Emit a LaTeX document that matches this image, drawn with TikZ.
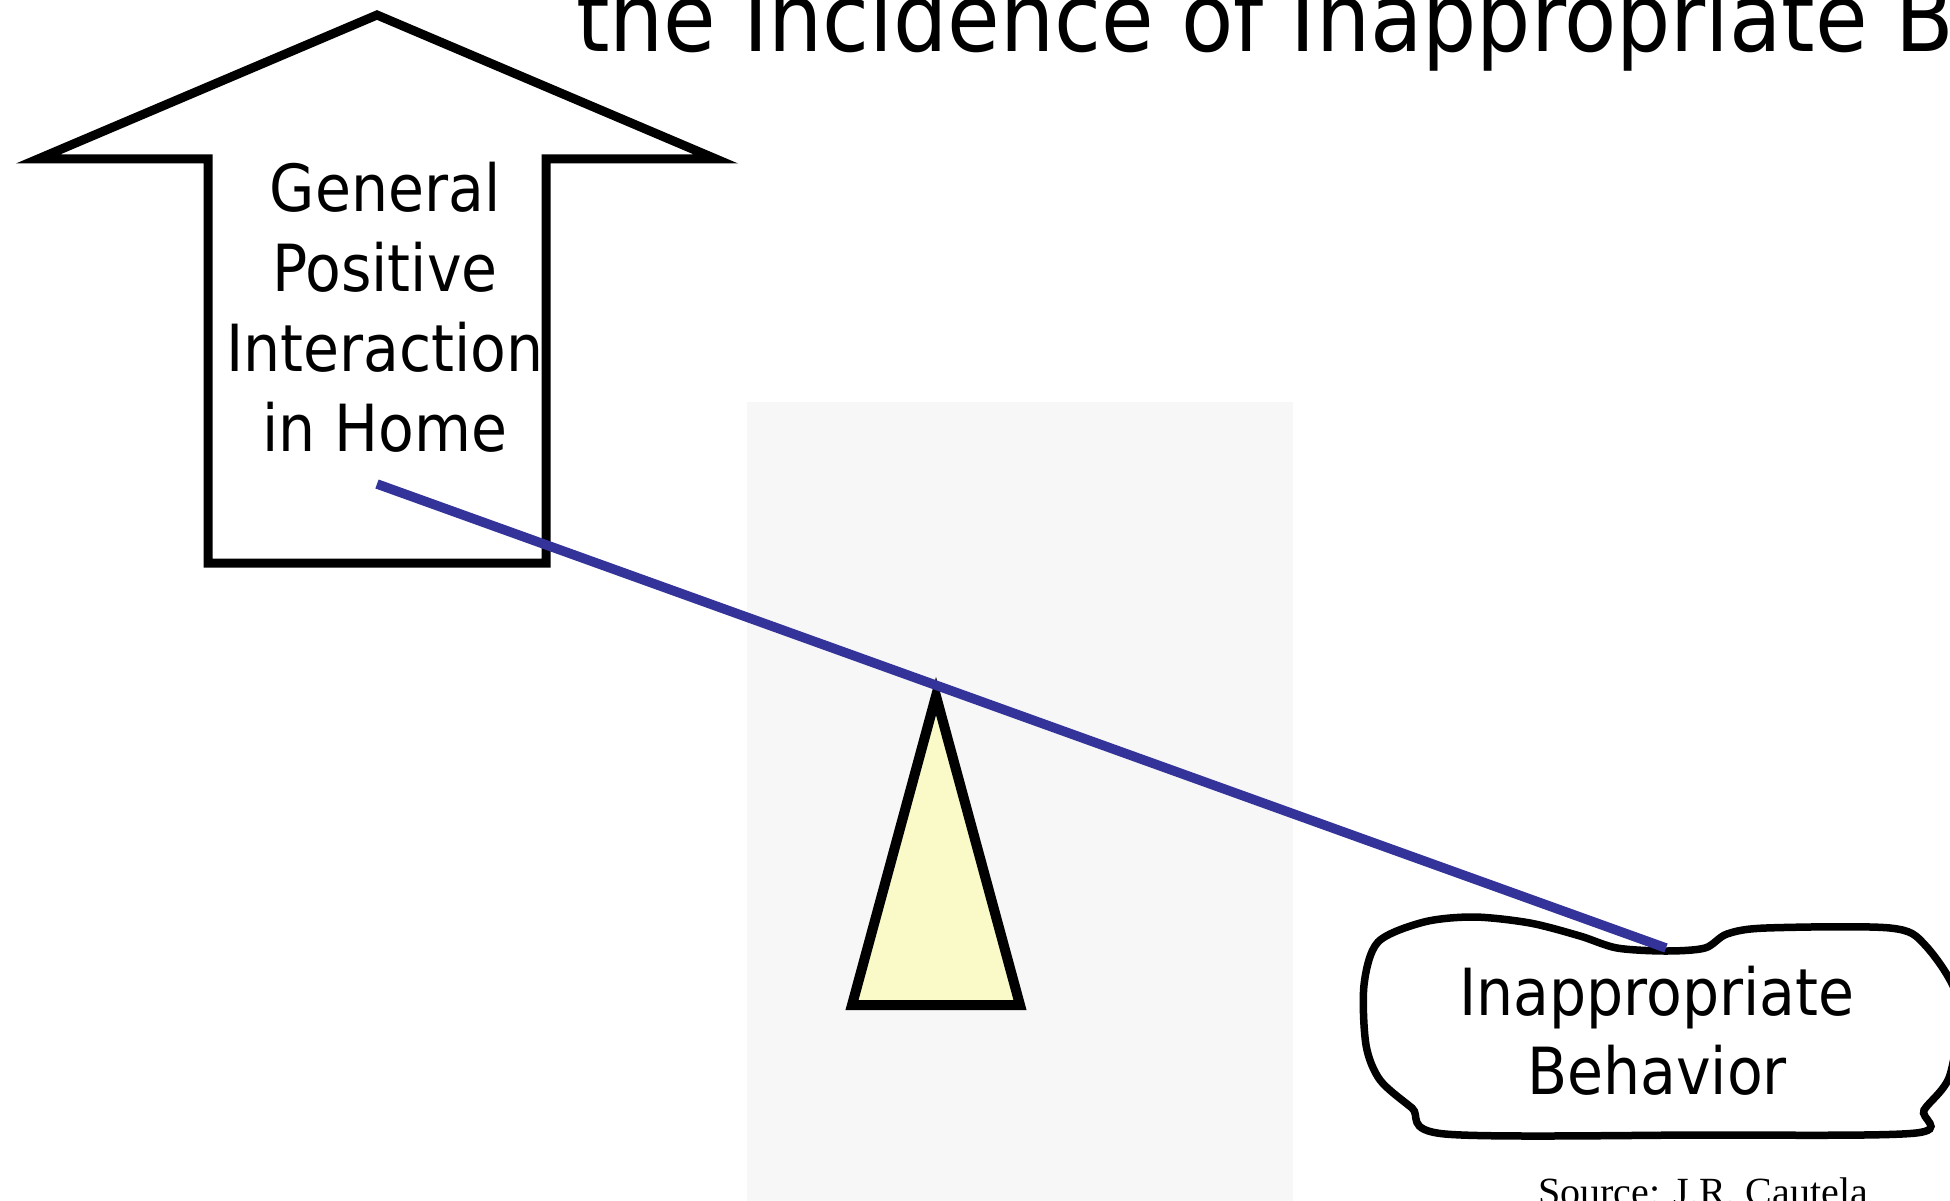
\documentclass[tikz,border=0pt]{standalone}
\usepackage{fontspec}
\setmainfont{DejaVu Sans Condensed}
\newfontfamily\srcfont{Liberation Serif}
\definecolor{beamblue}{RGB}{51,51,153}
\definecolor{pivotfill}{RGB}{250,250,200}
\definecolor{panelgray}{RGB}{247,247,247}
\tikzset{
  outline/.style={draw=black, line width=9pt, line join=miter},
  beamline/.style={draw=beamblue, line width=9.5pt},
  labeltext/.style={inner sep=0pt, align=center, font=\fontsize{65}{80}\selectfont},
}
\begin{document}
\begin{tikzpicture}[x=1pt,y=-1pt]
\useasboundingbox (0,0) rectangle (1950,1201);
\fill[panelgray] (747,402) rectangle (1293,1201);
% title
\node[anchor=base west, inner sep=0pt, font=\fontsize{95}{110}\selectfont] (title) at (576,52) {the Incidence of Inappropriate B};
% up arrow
\draw[outline, fill=white] (377,15) -- (716,159) -- (546,159) -- (546,563) -- (208,563) -- (208,159) -- (38,159) -- cycle;
\node[labeltext] (gpi) at (385,307) {General\\Positive\\Interaction\\in Home};
% blob
\draw[line width=7.5pt, fill=white] plot[smooth cycle, tension=0.5] coordinates {
 (1445,1134) (1412,1108) (1380,1080) (1366,1045) (1364,985) (1378,942) (1424,922) (1474,917)
 (1530,923) (1580,936) (1617,948) (1666,951) (1705,948) (1727,934) (1766,928)
 (1890,928) (1925,945) (1958,1000) (1950,1075) (1924,1110) (1916,1133) (1700,1135)};
\node[labeltext, font=\fontsize{65}{79}\selectfont] (ib) at (1657,1031) {Inappropriate\\Behavior};
% pivot
\draw[draw=black, line width=10pt, line join=miter, fill=pivotfill] (936,696) -- (1020,1005) -- (852,1005) -- cycle;
\coordinate (beamL) at (377,484);
\coordinate (beamR) at (1666,948);
\draw[beamline] (beamL) -- (beamR);
\node[anchor=base west, inner sep=0pt, font=\srcfont\fontsize{40}{48}\selectfont] (src) at (1538,1205) {Source: J.R. Cautela};
\end{tikzpicture}
\end{document}
